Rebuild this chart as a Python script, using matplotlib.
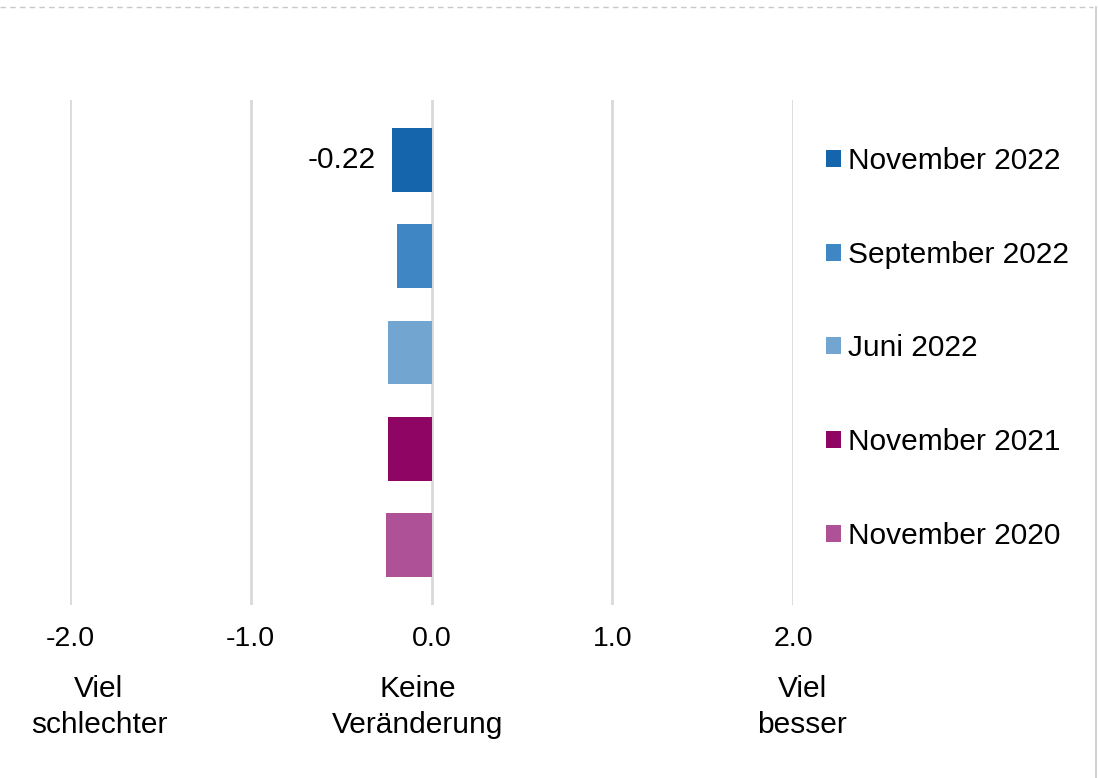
import matplotlib.pyplot as plt
from matplotlib.lines import Line2D
from matplotlib.patches import Patch
import numpy as np

plt.rcParams['font.family'] = ['Liberation Sans', 'DejaVu Sans']

# data (top to bottom)
labels = ['November 2022', 'September 2022', 'Juni 2022', 'November 2021', 'November 2020']
values = [-0.22, -0.19, -0.24, -0.24, -0.25]
colors = ['#1565ac', '#3e87c4', '#72a6d1', '#8f0563', '#af5197']
ticks = [-2.0, -1.0, 0.0, 1.0, 2.0]
scale_labels = ['Viel\nschlechter', 'Keine\nVeränderung', 'Viel\nbesser']
scale_pos = [-1.84, -0.075, 2.05]

fig = plt.figure(figsize=(10.99, 7.78), dpi=100)
W, H = 1099, 778
ax = fig.add_axes([70 / W, 1 - 605 / H, (793 - 70) / W, (605 - 100) / H])

y = np.arange(len(labels))
ax.barh(y, values, height=0.665, color=colors, zorder=3)

ax.set_xlim(-2, 2)
ax.set_ylim(len(labels) - 0.375, -0.625)
ax.set_xticks(ticks)
ax.set_xticklabels(['%.1f' % t for t in ticks], fontsize=20.5)
ax.tick_params(axis='x', length=0, pad=15)
ax.set_yticks([])
ax.grid(axis='x', color='#d9d9d9', linewidth=2, zorder=0)
for s in ax.spines.values():
    s.set_visible(False)

# value label on first bar
ax.text(values[0] - 0.09, 0, '%.2f' % values[0], ha='right', va='center', fontsize=21.5)

# scale descriptions under ticks
for xp, txt in zip(scale_pos, scale_labels):
    xf = (431.5 + xp * 180.75) / W
    fig.text(xf, 1 - 675 / H, txt, ha='center', va='top', fontsize=21.5, linespacing=1.38)

# legend
handles = [Patch(facecolor=c, edgecolor='none') for c in colors]
fig.legend(handles, labels, loc='upper left', bbox_to_anchor=(826 / W, 1 - 147 / H),
           frameon=False, fontsize=21.5, handlelength=0.5, handleheight=0.5,
           handletextpad=0.25, labelspacing=2.2, borderaxespad=0, borderpad=0)

# screenshot frame
fig.add_artist(Line2D([0, 1093 / W], [1 - 7 / H, 1 - 7 / H], transform=fig.transFigure,
                      color='#c8c8c8', linewidth=1, linestyle=(0, (4, 3))))
fig.add_artist(Line2D([1096 / W, 1096 / W], [0, 1 - 7 / H], transform=fig.transFigure,
                      color='#c8c8c8', linewidth=1.2))

fig.savefig('out.png', dpi=100)
